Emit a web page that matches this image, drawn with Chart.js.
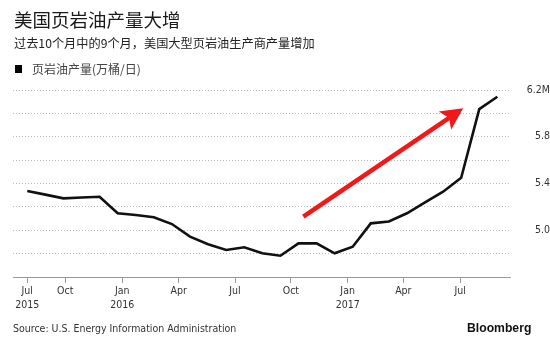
<!DOCTYPE html>
<html>
<head>
<meta charset="utf-8">
<script src="https://cdn.jsdelivr.net/npm/chart.js@4.4.0/dist/chart.umd.min.js"></script>
<style>
  html, body { margin: 0; padding: 0; background: #fff; }
  #wrap { position: relative; width: 550px; height: 343px; overflow: hidden; }
  #wrap canvas { position: absolute; left: 0; top: 0; }
  .t { position: absolute; white-space: nowrap; font-family: "Noto Sans CJK SC", sans-serif; }
  #title { left: 14px; top: 8px; font-size: 18.5px; line-height: 22px; color: #1a1a1a; }
  #sub { left: 14px; top: 35px; font-size: 12.2px; line-height: 16px; color: #222; }
  #legend { left: 32px; top: 61px; font-size: 12px; line-height: 16px; color: #444; }
  #swatch { position: absolute; left: 15px; top: 65px; width: 7px; height: 8px; background: #000; }
  #source { left: 13px; top: 322px; font-family: "DejaVu Sans Condensed", "DejaVu Sans", sans-serif; font-size: 10.5px; line-height: 12px; color: #333; }
  #brand { left: 467px; top: 320px; font-family: "Liberation Sans", Arial, sans-serif; font-weight: bold; font-size: 12.2px; line-height: 16px; color: #111; }
</style>
</head>
<body>
<div id="wrap">
  <canvas id="c" width="550" height="343"></canvas>
  <div class="t" id="title">美国页岩油产量大增</div>
  <div class="t" id="sub">过去10个月中的9个月，美国大型页岩油生产商产量增加</div>
  <div id="swatch"></div>
  <div class="t" id="legend">页岩油产量(万桶/日)</div>
  <div class="t" id="source">Source: U.S. Energy Information Administration</div>
  <div class="t" id="brand">Bloomberg</div>
</div>
<script>
// Monthly shale oil output, Jul 2015 – Sep 2017 (million barrels/day)
const months = [
  '2015-07','2015-08','2015-09','2015-10','2015-11','2015-12',
  '2016-01','2016-02','2016-03','2016-04','2016-05','2016-06',
  '2016-07','2016-08','2016-09','2016-10','2016-11','2016-12',
  '2017-01','2017-02','2017-03','2017-04','2017-05','2017-06',
  '2017-07','2017-08','2017-09'
];
const production = [
  5.336, 5.305, 5.273, 5.280, 5.287, 5.145,
  5.130, 5.111, 5.053, 4.945, 4.880, 4.831,
  4.854, 4.803, 4.782, 4.888, 4.888, 4.803,
  4.859, 5.059, 5.075, 5.145, 5.239, 5.330,
  5.449, 6.037, 6.142
];

// Axis labels along the bottom and where they sit (in months from the first point)
const tickLabels = [['Jul','2015'], ['Oct'], ['Jan','2016'], ['Apr'], ['Jul'], ['Oct'], ['Jan','2017'], ['Apr'], ['Jul']];
const tickAt = [0, 2.1, 5.25, 8.37, 11.49, 14.58, 17.72, 20.8, 23.94];

// Value axis
const yMin = 4.6, yMax = 6.2, yStep = 0.2;
const yLabeled = [5.0, 5.4, 5.8, 6.2];

// Trend arrow: [month, value] from tail to head
const arrowFrom = [15.27, 5.116];
const arrowTo = [24.11, 6.043];

const points = production.map((v, i) => ({ x: i, y: v }));

const trendArrow = {
  id: 'trendArrow',
  afterDatasetsDraw(chart) {
    const { ctx, scales: { x, y } } = chart;
    const x0 = x.getPixelForValue(arrowFrom[0]), y0 = y.getPixelForValue(arrowFrom[1]);
    const x1 = x.getPixelForValue(arrowTo[0]), y1 = y.getPixelForValue(arrowTo[1]);
    const ang = Math.atan2(y1 - y0, x1 - x0);
    const headLen = 22, headHalf = 11, notch = 5;
    const ux = Math.cos(ang), uy = Math.sin(ang);
    const px = -uy, py = ux;
    const bx = x1 - ux * headLen, by = y1 - uy * headLen;
    ctx.save();
    ctx.strokeStyle = '#f01818';
    ctx.fillStyle = '#f01818';
    ctx.lineWidth = 4.5;
    ctx.lineCap = 'butt';
    ctx.beginPath();
    ctx.moveTo(x0, y0);
    ctx.lineTo(bx + ux * notch, by + uy * notch);
    ctx.stroke();
    ctx.beginPath();
    ctx.moveTo(x1, y1);
    ctx.lineTo(bx + px * headHalf, by + py * headHalf);
    ctx.lineTo(bx + ux * notch, by + uy * notch);
    ctx.lineTo(bx - px * headHalf, by - py * headHalf);
    ctx.closePath();
    ctx.fill();
    ctx.restore();
  }
};

const axisFont = '"DejaVu Sans Condensed", "DejaVu Sans", sans-serif';

new Chart(document.getElementById('c'), {
  type: 'line',
  data: {
    datasets: [{
      label: '页岩油产量(万桶/日)',
      data: points,
      borderColor: '#111',
      borderWidth: 2.6,
      pointRadius: 0,
      tension: 0,
      fill: false
    }]
  },
  options: {
    responsive: false,
    animation: false,
    events: [],
    layout: { padding: { left: 13, right: 0, top: 90, bottom: 30 } },
    plugins: { legend: { display: false }, tooltip: { enabled: false } },
    scales: {
      x: {
        type: 'linear',
        min: -0.79,
        max: 26.7,
        afterBuildTicks(scale) { scale.ticks = tickAt.map(v => ({ value: v })); },
        afterFit(scale) { scale.height = 36; },
        ticks: {
          autoSkip: false,
          maxRotation: 0,
          padding: 2,
          color: '#333',
          font: { family: axisFont, size: 10.5, lineHeight: 1.28 },
          callback(value, index) { return tickLabels[index]; }
        },
        grid: { drawOnChartArea: false, drawTicks: true, tickLength: 6, color: '#999', lineWidth: 1 },
        border: { display: true, color: '#999', width: 1 }
      },
      y: {
        position: 'right',
        min: yMin,
        max: yMax,
        afterFit(scale) { scale.width = 40; },
        ticks: {
          stepSize: yStep,
          padding: 0,
          crossAlign: 'far',
          color: '#333',
          font: { family: axisFont, size: 10.5 },
          callback(value) {
            const r = Math.round(value * 10) / 10;
            if (!yLabeled.some(v => Math.abs(v - r) < 1e-6)) return '';
            return r === yMax ? r.toFixed(1) + 'M' : r.toFixed(1);
          }
        },
        grid: { drawTicks: false, color: '#bbb', lineWidth: 1 },
        border: { display: false, dash: [1, 2] }
      }
    }
  },
  plugins: [trendArrow]
});
</script>
</body>
</html>
